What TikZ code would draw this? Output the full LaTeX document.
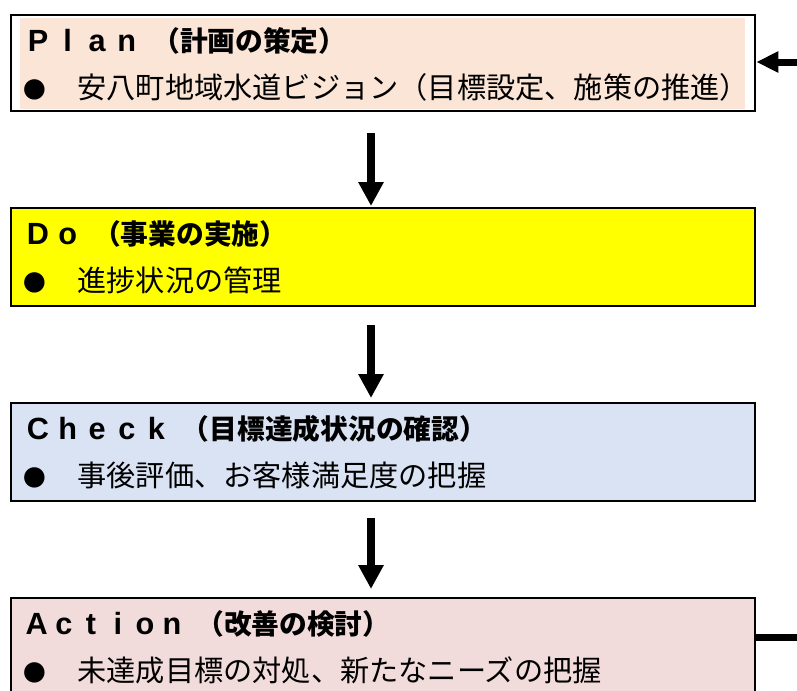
\documentclass[tikz,border=0pt]{standalone}
\usepackage{fontspec}
\newfontfamily\jp{Noto Sans CJK JP}
\newfontfamily\lat{Liberation Sans}
\usetikzlibrary{arrows.meta}
\definecolor{planfill}{HTML}{FBE5D6}
\definecolor{dofill}{HTML}{FFFF00}
\definecolor{checkfill}{HTML}{DAE3F3}
\definecolor{actfill}{HTML}{F2DCDB}
\newcommand\cel[1]{\makebox[22.2pt][c]{#1}}
\newcommand\celn[1]{\makebox[20.3pt][c]{#1}}
\newcommand\latf{\lat\bfseries\fontsize{23pt}{23pt}\selectfont}
\newcommand\jpf{\hspace{8pt}\jp\bfseries\fontsize{20.8pt}{21pt}\selectfont}
\newcommand\bul{\makebox[20.25pt][c]{\fontsize{17pt}{17pt}\selectfont ●}}
\begin{document}
\begin{tikzpicture}[x=0.75pt,y=-0.75pt,
  box/.style={draw=black,line width=1.8pt,minimum width=558pt,minimum height=73.5pt,inner sep=0pt,outer sep=0pt},
  head/.style={anchor=base west,inner sep=0pt},
  item/.style={anchor=base west,inner sep=0pt,font=\jp\fontsize{21.9pt}{22pt}\selectfont},
  down/.style={line width=6pt,-{Triangle[width=18pt,length=18pt]}},
  side/.style={line width=5.25pt}
]
\useasboundingbox (0,0) rectangle (797,690);
\clip (0,0) rectangle (797,690);
% boxes
\node[box,fill=white,minimum height=72pt] (plan) at (383,63) {};
\fill[planfill] (20,17.5) rectangle (745,108.5);
\node[box,fill=dofill] (do) at (383,257) {};
\node[box,fill=checkfill] (check) at (383,452) {};
\node[box,fill=actfill] (action) at (383,647) {};
% texts
\node[head] (planh) at (23,51) {\latf\cel{P}\cel{l}\cel{a}\cel{n}\jpf （計画の策定）};
\node[item] (plani) at (21,98) {\bul　安八町地域水道ビジョン（目標設定、施策の推進）};
\node[head] (doh) at (23,244) {\latf\cel{D}\cel{o}\jpf （事業の実施）};
\node[item] (doi) at (21,291) {\bul　進捗状況の管理};
\node[head] (checkh) at (23,439) {\latf\cel{C}\cel{h}\cel{e}\cel{c}\cel{k}\jpf （目標達成状況の確認）};
\node[item] (checki) at (21,486) {\bul　事後評価、お客様満足度の把握};
\node[head] (actionh) at (23,634) {\latf\celn{A}\celn{c}\celn{t}\celn{i}\celn{o}\celn{n}\jpf （改善の検討）};
\node[item] (actioni) at (21,681) {\bul　未達成目標の対処、新たなニーズの把握};
% arrows
\draw[down] ([xshift=-9pt,yshift=-16.5pt]plan.south) -- ([xshift=-9pt,yshift=1.5pt]do.north);
\draw[down] ([xshift=-9pt,yshift=-14.25pt]do.south) -- ([xshift=-9pt,yshift=3.75pt]check.north);
\draw[down] ([xshift=-9pt,yshift=-12.75pt]check.south) -- ([xshift=-9pt,yshift=6.75pt]action.north);
\coordinate (fb1) at (797,62);
\coordinate (fb2) at (797,637);
\draw[side,-{Triangle[width=15pt,length=16.5pt]}] (fb1) -- ([xshift=1pt]plan.east |- fb1);
\draw[side] (action.east |- fb2) -- (fb2);
\end{tikzpicture}
\end{document}
